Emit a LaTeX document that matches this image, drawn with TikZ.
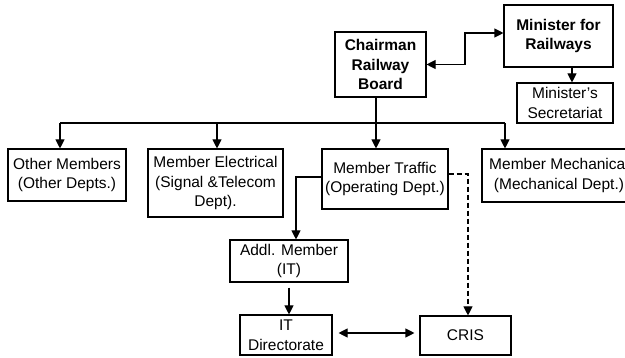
\documentclass[tikz,border=0pt]{standalone}
\usepackage{fontspec}
\setmainfont{Liberation Sans}
\usetikzlibrary{arrows.meta, positioning, calc}
\tikzset{
  box/.style={rectangle, draw=black, line width=1.1pt, align=center,
    inner sep=0pt, font=\fontsize{15.5}{19.5}\selectfont},
  bbox/.style={box, font=\fontsize{15.5}{19.5}\selectfont\bfseries},
  arrow/.style={-{Triangle[length=9pt,width=9pt]}, line width=1.1pt},
  dblarrow/.style={{Triangle[length=9pt,width=9pt]}-{Triangle[length=9pt,width=9pt]}, line width=1.1pt},
  line/.style={line width=1.1pt}
}

\begin{document}
\begin{tikzpicture}[x=1pt, y=-1pt]
    \useasboundingbox (0,0) rectangle (625,358);

    % Board and ministry
    \node[bbox, minimum width=91pt, minimum height=65pt] (chair) at (380.5,64.5) {Chairman\\Railway\\Board};
    \node[bbox, minimum width=109pt, minimum height=62pt] (minister) at (558.5,36) {Minister for\\Railways};
    \node[box, minimum width=96pt, minimum height=40pt] (secret) at (565,103) {Minister's\\Secretariat};

    % Members
    \node[box, minimum width=118pt, minimum height=52pt] (other) at (67,175) {Other Members\\(Other Depts.)};
    \node[box, minimum width=135pt, minimum height=68pt] (elec) at (215.5,183) {Member Electrical\\(Signal \&Telecom\\Dept).};
    \node[box, minimum width=126pt, minimum height=60pt] (traffic) at (385,179) {Member Traffic\\(Operating Dept.)};
    \node[box, minimum width=154pt, minimum height=53pt] (mech) at (559,175.5) {Member Mechanical\\(Mechanical Dept.)};

    % IT side
    \node[box, minimum width=118pt, minimum height=42pt] (addl) at (289,261) {Addl. Member\\(IT)};
    \node[box, minimum width=92pt, minimum height=40pt] (itdir) at (286,335) {IT\\Directorate};
    \node[box, minimum width=91pt, minimum height=39pt] (cris) at (465.5,335.5) {CRIS};

    % Links
    \draw[dblarrow] (chair.east) -- (465,64.5) |- ([yshift=3pt]minister.west);
    \draw[arrow] ([xshift=13.5pt]minister.south) -- ([xshift=7pt]secret.north);

    \coordinate (bus) at (376,123);
    \draw[line] (chair.south -| bus) -- (bus);
    \draw[line] (60,123) -- (505,123);
    \draw[arrow] (60,123) -- (other.north -| 60,0);
    \draw[arrow] (217,123) -- (elec.north -| 217,0);
    \draw[arrow] (bus) -- (traffic.north -| bus);
    \draw[arrow] (505,123) -- (mech.north -| 505,0);

    \draw[arrow] ([yshift=2pt]traffic.west) -| ([xshift=7pt]addl.north);
    \draw[arrow] ([yshift=-5pt]addl.south) -- (addl.south |- itdir.north);
    \draw[dblarrow, shorten <=6pt, shorten >=5pt] ([yshift=2pt]itdir.east) -- ([yshift=2.5pt]cris.west);
    \draw[arrow, dash pattern=on 5pt off 3pt] ([yshift=5pt]traffic.east) -| ([xshift=2.5pt]cris.north);
  \end{tikzpicture}
\end{document}
